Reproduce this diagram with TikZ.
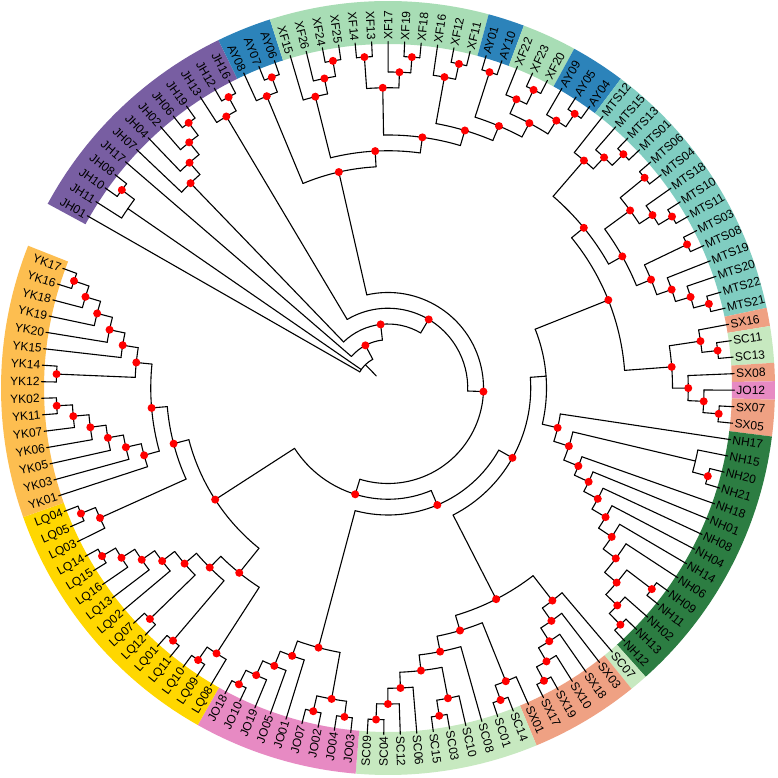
\documentclass[tikz,border=0pt]{standalone}
\usepackage{fontspec}
\setmainfont{Liberation Sans}
\definecolor{cJH}{RGB}{120,94,162}
\definecolor{cAY}{RGB}{44,131,186}
\definecolor{cXF}{RGB}{168,221,181}
\definecolor{cMTS}{RGB}{128,205,193}
\definecolor{cSX}{RGB}{239,161,131}
\definecolor{cSC}{RGB}{199,233,192}
\definecolor{cJO}{RGB}{231,138,195}
\definecolor{cNH}{RGB}{44,125,66}
\definecolor{cLQ}{RGB}{255,215,0}
\definecolor{cYK}{RGB}{253,190,80}
\definecolor{dotred}{RGB}{255,0,0}
\tikzset{
  branch/.style={line width=1.1pt, line cap=round, line join=round, black},
  lab/.style={inner sep=0pt, outer sep=0pt, font=\fontsize{12}{14}\selectfont, text height=8.6pt, text depth=0pt},
}
\newcommand\LAng[1]{\fpeval{150.2-2.7375*(#1)}}
\newcommand\LevR[1]{\fpeval{347.5-15.75*(#1)}}
\gdef\dotlist{}
\newcommand\Leaf[2]{%
  \edef\la{\LAng{#1}}%
  \expandafter\xdef\csname na@#2\endcsname{\la}%
  \coordinate (#2) at (\la:346.5pt);
  \ifnum\fpeval{(\la>90)||(\la<-90)}=1
    \node[lab,anchor=east,rotate=\fpeval{\la+180}] (t#2) at (\la:348.5pt) {#2};
  \else
    \node[lab,anchor=west,rotate=\la] (t#2) at (\la:348.5pt) {#2};
  \fi
}
\newcommand\Inode[4]{%
  \edef\ra{\LevR{#3}}%
  \gdef\firstc{}%
  \foreach \c in {#4}{\ifx\firstc\empty\xdef\firstc{\c}\fi\xdef\lastc{\c}}%
  \edef\aa{\csname na@\firstc\endcsname}%
  \edef\ab{\csname na@\lastc\endcsname}%
  \expandafter\xdef\csname na@#2\endcsname{\fpeval{(\aa+\ab)/2}}%
  \coordinate (#2) at (\csname na@#2\endcsname:\ra pt);
  \draw[branch] (\aa:\ra pt) arc[start angle=\aa, end angle=\ab, radius=\ra pt];
  \foreach \c in {#4}{\coordinate (\c-f) at (\csname na@\c\endcsname:\ra pt); \draw[branch] (\c-f) -- (\c);}%
  \ifnum#1=1 \ifx\dotlist\empty\xdef\dotlist{#2}\else\xdef\dotlist{\dotlist,#2}\fi\fi
}
\newcommand\Ring[3]{%
  \edef\ta{\fpeval{150.2-2.7375*(#1)+1.36875}}%
  \edef\tb{\fpeval{150.2-2.7375*(#2)-1.36875}}%
  \fill[#3] (\ta:344pt) arc[start angle=\ta, end angle=\tb, radius=344pt] -- (\tb:387pt) arc[start angle=\tb, end angle=\ta, radius=387pt] -- cycle;
}
\begin{document}
\begin{tikzpicture}
\fill[white] (-388pt,-390pt) rectangle (390pt,388pt);
\useasboundingbox (-388pt,-390pt) rectangle (390pt,388pt);
% colour ring
\Ring{0}{12}{cJH}
\Ring{13}{15}{cAY}
\Ring{16}{27}{cXF}
\Ring{28}{29}{cAY}
\Ring{30}{32}{cXF}
\Ring{33}{35}{cAY}
\Ring{36}{50}{cMTS}
\Ring{51}{51}{cSX}
\Ring{52}{53}{cSC}
\Ring{54}{54}{cSX}
\Ring{55}{55}{cJO}
\Ring{56}{57}{cSX}
\Ring{58}{72}{cNH}
\Ring{73}{73}{cSC}
\Ring{74}{79}{cSX}
\Ring{80}{89}{cSC}
\Ring{90}{98}{cJO}
\Ring{99}{113}{cLQ}
\Ring{114}{128}{cYK}
% leaves
\foreach \n [count=\i from 0] in {JH01,JH11,JH10,JH08,JH17,JH07,JH04,JH02,JH06,JH19,JH13,JH12,JH16,
  AY08,AY07,AY06,XF15,XF26,XF24,XF25,XF14,XF13,XF17,XF19,XF18,XF16,XF12,XF11,AY01,AY10,
  XF22,XF23,XF20,AY09,AY05,AY04,MTS12,MTS15,MTS13,MTS01,MTS06,MTS04,MTS18,MTS10,MTS11,
  MTS03,MTS08,MTS19,MTS20,MTS22,MTS21,SX16,SC11,SC13,SX08,JO12,SX07,SX05,
  NH17,NH15,NH20,NH21,NH18,NH01,NH08,NH04,NH14,NH06,NH09,NH11,NH02,NH13,NH12,
  SC07,SX03,SX18,SX10,SX19,SX17,SX01,SC14,SC01,SC08,SC10,SC03,SC15,SC06,SC12,SC04,SC09,
  JO03,JO04,JO02,JO07,JO01,JO05,JO19,JO10,JO18,
  LQ08,LQ09,LQ10,LQ11,LQ01,LQ12,LQ07,LQ02,LQ13,LQ16,LQ15,LQ14,LQ03,LQ05,LQ04,
  YK01,YK03,YK05,YK06,YK07,YK11,YK02,YK12,YK14,YK15,YK20,YK19,YK18,YK16,YK17}
  {\Leaf{\i}{\n}}
% JH
\Inode{1}{J2}{1}{JH10,JH08}
\Inode{0}{J1}{2}{JH11,J2}
\Inode{1}{A1}{1}{JH06,JH19}
\Inode{1}{A2}{2}{JH02,A1}
\Inode{1}{A3}{3}{JH04,A2}
\Inode{1}{A4}{4}{JH07,A3}
\Inode{1}{A5}{1}{JH12,JH16}
\Inode{1}{A6}{2}{JH13,A5}
% AY / XF
\Inode{1}{B0}{1}{AY07,AY06}
\Inode{1}{B1}{2}{AY08,B0}
\Inode{1}{C1}{1}{XF24,XF25}
\Inode{1}{C2}{2}{XF26,C1}
\Inode{1}{C3}{3}{XF15,C2}
\Inode{1}{C4}{1}{XF14,XF13}
\Inode{1}{C5}{1}{XF19,XF18}
\Inode{1}{C6}{2}{XF17,C5}
\Inode{1}{C7}{3}{C4,C6}
\Inode{1}{C8}{1}{XF12,XF11}
\Inode{1}{C9}{2}{XF16,C8}
\Inode{1}{C10}{1}{AY01,AY10}
\Inode{1}{D1}{1}{XF23,XF20}
\Inode{1}{D2}{2}{XF22,D1}
\Inode{1}{E1}{1}{AY05,AY04}
\Inode{1}{E2}{2}{AY09,E1}
\Inode{1}{E3}{3}{D2,E2}
\Inode{1}{F1}{4}{C10,E3}
\Inode{1}{F2}{5}{C9,F1}
\Inode{1}{F3}{6}{C7,F2}
\Inode{1}{T2}{7}{C3,F3}
\Inode{1}{T1}{8}{B1,T2}
% MTS
\Inode{1}{G1}{1}{MTS13,MTS01}
\Inode{1}{G2}{2}{MTS15,G1}
\Inode{1}{G3}{3}{MTS12,G2}
\Inode{1}{G4}{1}{MTS06,MTS04}
\Inode{1}{G5}{1}{MTS10,MTS11}
\Inode{1}{G6}{2}{MTS18,G5}
\Inode{1}{G7}{3}{G4,G6}
\Inode{1}{G8}{1}{MTS03,MTS08}
\Inode{1}{H1}{1}{MTS22,MTS21}
\Inode{1}{H2}{2}{MTS20,H1}
\Inode{1}{H3}{3}{MTS19,H2}
\Inode{1}{H4}{4}{G8,H3}
\Inode{1}{H5}{5}{G7,H4}
\Inode{1}{H6}{6}{G3,H5}
% SX/SC/JO12
\Inode{1}{K1}{1}{SC11,SC13}
\Inode{1}{K2}{2}{SX16,K1}
\Inode{1}{K3}{1}{SX07,SX05}
\Inode{1}{K4}{2}{JO12,K3}
\Inode{1}{K5}{3}{SX08,K4}
\Inode{1}{K6}{4}{K2,K5}
\Inode{1}{K7}{7}{H6,K6}
% NH
\Inode{1}{M1}{1}{NH20,NH21}
\Inode{0}{M2}{2}{NH15,M1}
\Inode{1}{M12}{1}{NH09,NH11}
\Inode{1}{M14}{1}{NH13,NH12}
\Inode{1}{M13}{2}{NH02,M14}
\Inode{1}{M11}{3}{M12,M13}
\Inode{1}{M10}{4}{NH06,M11}
\Inode{1}{M9}{5}{NH14,M10}
\Inode{1}{M8}{6}{NH04,M9}
\Inode{1}{M7}{7}{NH08,M8}
\Inode{1}{M6}{8}{NH01,M7}
\Inode{1}{M5}{9}{NH18,M6}
\Inode{1}{M4}{10}{M2,M5}
\Inode{1}{M3}{11}{NH17,M4}
\Inode{0}{P1}{12}{K7,M3}
% SX / SC
\Inode{1}{S1}{1}{SX19,SX17}
\Inode{1}{S2}{2}{SX10,S1}
\Inode{1}{S3}{3}{SX18,S2}
\Inode{1}{S4}{4}{SX03,S3}
\Inode{1}{S5}{5}{SC07,S4}
\Inode{1}{U8}{1}{SC14,SC01}
\Inode{1}{U9}{2}{SX01,U8}
\Inode{1}{U4}{1}{SC03,SC15}
\Inode{1}{U5}{2}{SC10,U4}
\Inode{1}{U1}{1}{SC04,SC09}
\Inode{1}{U2}{2}{SC12,U1}
\Inode{1}{U3}{3}{SC06,U2}
\Inode{1}{U6}{4}{U5,U3}
\Inode{1}{U7}{5}{SC08,U6}
\Inode{1}{U10}{6}{U9,U7}
\Inode{1}{S6}{7}{S5,U10}
\Inode{1}{P2}{13}{P1,S6}
% JO
\Inode{1}{V1}{1}{JO03,JO04}
\Inode{1}{V2}{1}{JO02,JO07}
\Inode{1}{V3}{2}{V1,V2}
\Inode{1}{W1}{1}{JO10,JO18}
\Inode{1}{W2}{2}{JO19,W1}
\Inode{1}{W3}{3}{JO05,W2}
\Inode{1}{W4}{4}{JO01,W3}
\Inode{1}{Q}{5}{V3,W4}
\Inode{1}{N128}{14}{P2,Q}
% LQ
\Inode{1}{L1}{1}{LQ09,LQ10}
\Inode{1}{L2}{2}{LQ08,L1}
\Inode{1}{L3}{1}{LQ11,LQ01}
\Inode{1}{L4}{1}{LQ12,LQ07}
\Inode{1}{L5}{1}{LQ15,LQ14}
\Inode{1}{L6}{2}{LQ16,L5}
\Inode{1}{L7}{3}{LQ13,L6}
\Inode{1}{L8}{4}{LQ02,L7}
\Inode{1}{L9}{5}{L4,L8}
\Inode{1}{L10}{6}{L3,L9}
\Inode{1}{L11}{7}{L2,L10}
\Inode{1}{L12}{1}{LQ05,LQ04}
\Inode{1}{L13}{2}{LQ03,L12}
% YK
\Inode{1}{Y8}{1}{YK11,YK02}
\Inode{1}{Y9}{2}{YK07,Y8}
\Inode{1}{Y10}{3}{YK06,Y9}
\Inode{1}{Y11}{4}{YK05,Y10}
\Inode{1}{Y12}{5}{YK03,Y11}
\Inode{1}{Y13}{6}{YK01,Y12}
\Inode{1}{Y6}{1}{YK12,YK14}
\Inode{1}{Y1}{1}{YK16,YK17}
\Inode{1}{Y2}{2}{YK18,Y1}
\Inode{1}{Y3}{3}{YK19,Y2}
\Inode{1}{Y4}{4}{YK20,Y3}
\Inode{1}{Y5}{5}{YK15,Y4}
\Inode{1}{Y7}{6}{Y6,Y5}
\Inode{1}{Y14}{7}{Y13,Y7}
\Inode{1}{Y15}{8}{L13,Y14}
\Inode{1}{Y16}{9}{L11,Y15}
% backbone
\Inode{1}{N111}{15}{Y16,N128}
\Inode{1}{N96}{16}{T1,N111}
\Inode{1}{N79}{17}{A6,N96}
\Inode{1}{N62}{18}{A4,N79}
\Inode{1}{N46}{19}{JH17,N62}
\Inode{0}{root}{20}{JH01,J1,N46}
\coordinate (stub) at (\csname na@root\endcsname:16.75pt);
\draw[branch] (stub) -- (root);
% support dots
\foreach \n in \dotlist {\fill[dotred] (\n) circle[radius=4pt];}
\end{tikzpicture}
\end{document}
